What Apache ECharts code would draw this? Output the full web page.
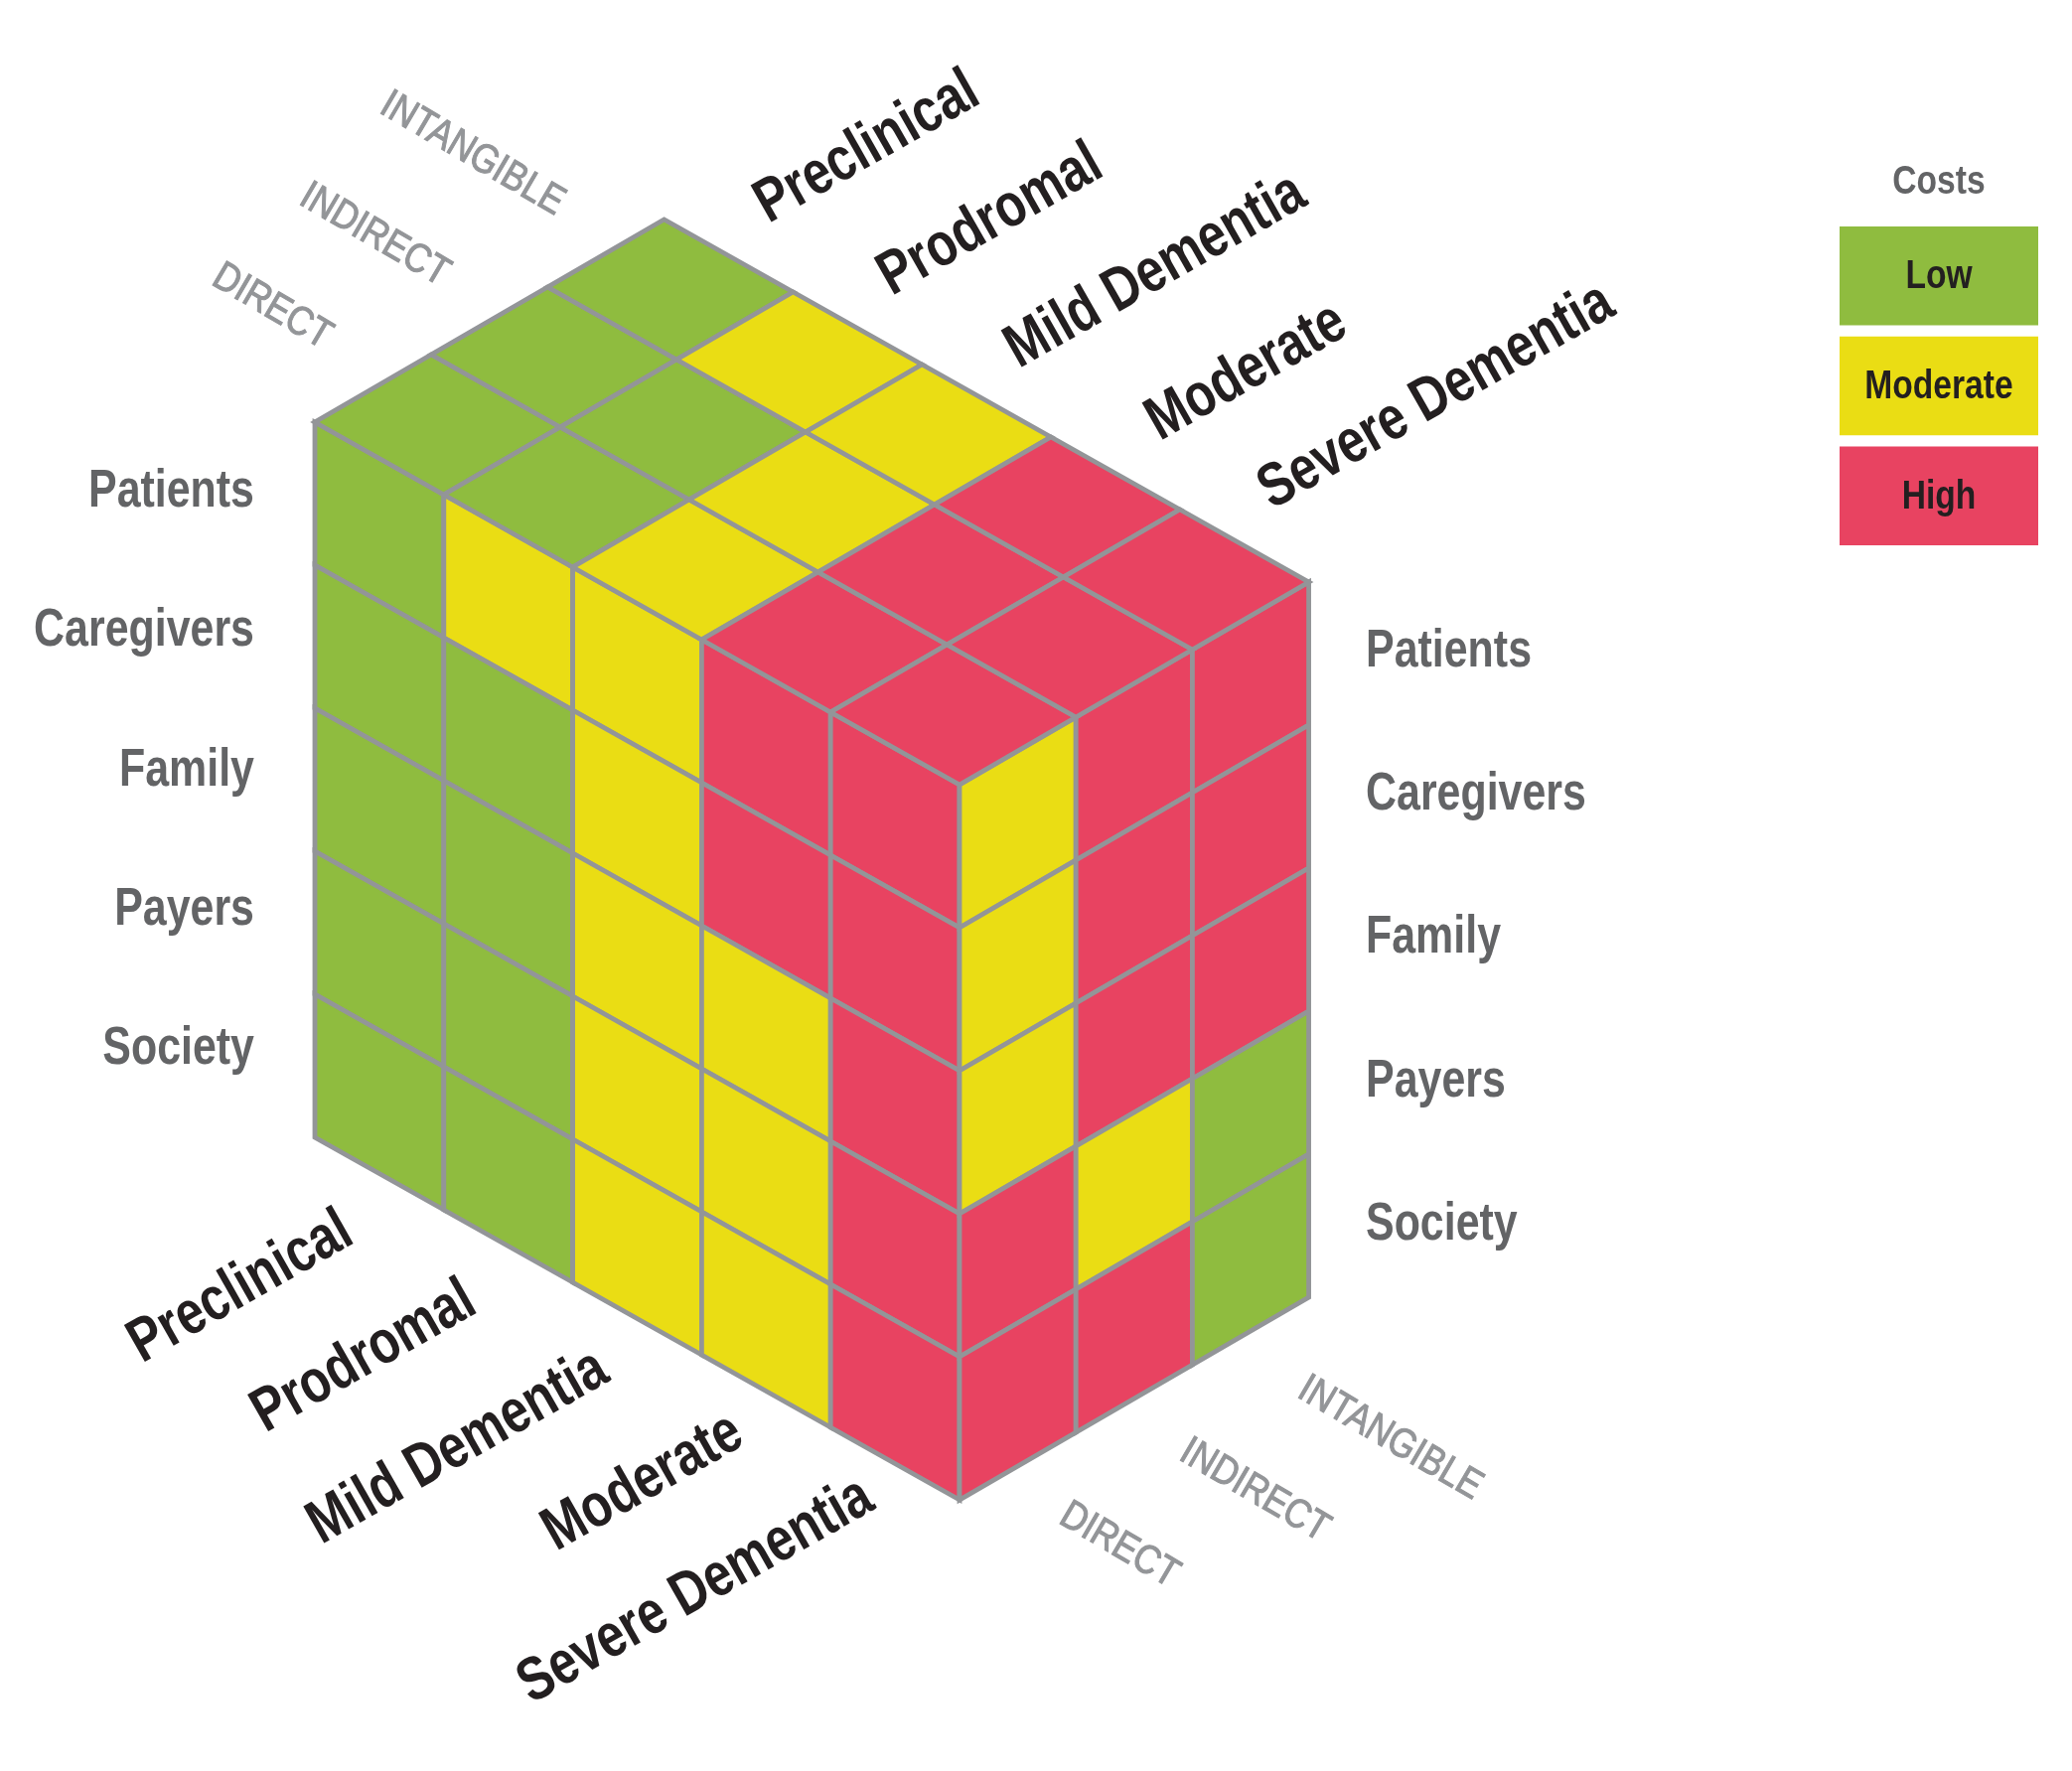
<!DOCTYPE html>
<html>
<head>
<meta charset="utf-8">
<style>html,body{margin:0;padding:0;background:#fff}#c{width:2086px;height:1783px}</style>
<script src="https://cdn.jsdelivr.net/npm/echarts@6/dist/echarts.min.js"></script>
</head>
<body>
<div id="c"></div>
<script>
// ---- chart data ----
const stages = ['Preclinical', 'Prodromal', 'Mild Dementia', 'Moderate', 'Severe Dementia'];
const groups = ['Patients', 'Caregivers', 'Family', 'Payers', 'Society'];
const costTypes = ['DIRECT', 'INDIRECT', 'INTANGIBLE'];
const levels = ['Low', 'Moderate', 'High'];
const legendTitle = 'Costs';
// 0 = Low, 1 = Moderate, 2 = High
// left face: one array per stage, one value per group
const byStagePreclinical = [0, 0, 0, 0, 0];
const byStageProdromal = [1, 0, 0, 0, 0];
const byStageMild = [1, 1, 1, 1, 1];
const byStageModerate = [2, 2, 1, 1, 1];
const byStageSevere = [2, 2, 2, 2, 2];
// right face: one array per cost type, one value per group
const byCostDirect = [1, 1, 1, 2, 2];
const byCostIndirect = [2, 2, 2, 1, 2];
const byCostIntangible = [2, 2, 2, 0, 0];
// top face: one array per cost type, one value per stage
const stageCostDirect = [0, 0, 1, 2, 2];
const stageCostIndirect = [0, 0, 1, 2, 2];
const stageCostIntangible = [0, 1, 1, 2, 2];

// ---- presentation ----
const levelColors = ['#8FBC3F', '#EADD14', '#E84361'];
const lineColor = '#939598';
const darkGray = '#636466';
const black = '#231F20';
const fontFamily = '"Liberation Sans", Arial, sans-serif';

// isometric projection onto the value axes
const cubeOrigin = [317, 425];
const stageStep = [129.8, 73];
const costStep = [117.2, -68];
const rowStep = [0, 144];
function project(s, c, r) {
  return [
    cubeOrigin[0] + s * stageStep[0] + c * costStep[0] + r * rowStep[0],
    cubeOrigin[1] + s * stageStep[1] + c * costStep[1] + r * rowStep[1]
  ];
}

const leftFace = [byStagePreclinical, byStageProdromal, byStageMild, byStageModerate, byStageSevere];
const rightFace = [byCostDirect, byCostIndirect, byCostIntangible];
const topFace = [stageCostDirect, stageCostIndirect, stageCostIntangible];

const cells = [];
leftFace.forEach((col, s) => col.forEach((v, r) => cells.push({
  level: v, corners: [project(s, 0, r), project(s + 1, 0, r), project(s + 1, 0, r + 1), project(s, 0, r + 1)]
})));
rightFace.forEach((col, c) => col.forEach((v, r) => cells.push({
  level: v, corners: [project(5, c, r), project(5, c + 1, r), project(5, c + 1, r + 1), project(5, c, r + 1)]
})));
topFace.forEach((row, c) => row.forEach((v, s) => cells.push({
  level: v, corners: [project(s, c, 0), project(s + 1, c, 0), project(s + 1, c + 1, 0), project(s, c + 1, 0)]
})));

// text placement: baseline anchors [x, y] on the value axes
const labels = [];
const BASELINE_TO_MIDDLE = 0.3465; // em distance from alphabetic baseline to the canvas "middle" line
function addLabel(text, pos, size, weight, color, align, angle, squeeze, halo) {
  const a = angle * Math.PI / 180;
  const d = BASELINE_TO_MIDDLE * size;
  labels.push({ text, size, weight, color, align, angle: a, squeeze, halo,
    pos: [pos[0] - Math.sin(a) * d, pos[1] - Math.cos(a) * d] });
}
const stageTopAnchors = [[776, 229], [900, 302], [1028, 375], [1170, 448], [1283, 517]];
const stageBottomAnchors = [[361, 1254], [485, 1324], [618, 1393], [754, 1457], [885, 1522]];
const costTopAnchors = [[210, 288], [298, 207], [379, 115]];
const costBottomAnchors = [[1063, 1535], [1184, 1471], [1303, 1408]];
stages.forEach((t, i) => {
  addLabel(t, stageTopAnchors[i], 62, 'bold', black, 'left', 29.6, 0.8, 0);
  addLabel(t, stageBottomAnchors[i], 62, 'bold', black, 'right', 29.6, 0.8, 0);
});
costTypes.forEach((t, i) => {
  addLabel(t, costTopAnchors[i], 41, 'normal', lineColor, 'left', -30.4, 0.86, 1.1);
  addLabel(t, costBottomAnchors[i], 41, 'normal', lineColor, 'left', -30.4, 0.86, 1.1);
});
groups.forEach((t, i) => {
  addLabel(t, [256, 514 + 140.2 * i], 53, 'bold', darkGray, 'right', 0, 0.81, 0);
  addLabel(t, [1375, 674.5 + 144.3 * i], 53, 'bold', darkGray, 'left', 0, 0.81, 0);
});
addLabel(legendTitle, [1952, 198], 40, 'bold', darkGray, 'center', 0, 0.84, 0);

// legend boxes
const legendBoxes = levels.map((name, i) => ({
  level: i, x0: 1852, x1: 2052, y0: 228 + i * 110.8, y1: 327.5 + i * 110.8
}));
levels.forEach((name, i) => {
  addLabel(name, [1952, 293 + i * 110.8], 40, 'bold', black, 'center', 0, 0.84, 0);
});

const chart = echarts.init(document.getElementById('c'), null, { renderer: 'canvas' });
chart.setOption({
  backgroundColor: '#ffffff',
  animation: false,
  tooltip: { show: false },
  grid: { left: 0, right: 0, top: 0, bottom: 0 },
  xAxis: { type: 'value', min: 0, max: 2086, show: false },
  yAxis: { type: 'value', min: 0, max: 1783, inverse: true, show: false },
  series: [
    {
      type: 'custom', coordinateSystem: 'cartesian2d', silent: true,
      data: cells.map((c, i) => [i, c.level]),
      renderItem(params, api) {
        const cell = cells[api.value(0)];
        return {
          type: 'polygon',
          shape: { points: cell.corners.map(p => api.coord(p)) },
          style: { fill: levelColors[cell.level], stroke: lineColor, lineWidth: 4.8, lineJoin: 'miter' }
        };
      }
    },
    {
      type: 'custom', coordinateSystem: 'cartesian2d', silent: true,
      data: legendBoxes.map((b, i) => [i]),
      renderItem(params, api) {
        const b = legendBoxes[api.value(0)];
        const a = api.coord([b.x0, b.y0]);
        const z = api.coord([b.x1, b.y1]);
        return {
          type: 'rect', shape: { x: a[0], y: a[1], width: z[0] - a[0], height: z[1] - a[1] },
          style: { fill: levelColors[b.level] }
        };
      }
    },
    {
      type: 'custom', coordinateSystem: 'cartesian2d', silent: true,
      data: labels.map((l, i) => [i]),
      renderItem(params, api) {
        const l = labels[api.value(0)];
        const p = api.coord(l.pos);
        const style = { text: l.text, font: l.weight + ' ' + l.size + 'px ' + fontFamily, fill: l.color,
                        align: l.align, verticalAlign: 'middle' };
        if (l.halo) { style.stroke = l.color; style.lineWidth = l.halo; }
        return { type: 'text', x: p[0], y: p[1], rotation: l.angle, scaleX: l.squeeze, style };
      }
    }
  ]
});
</script>
</body>
</html>
